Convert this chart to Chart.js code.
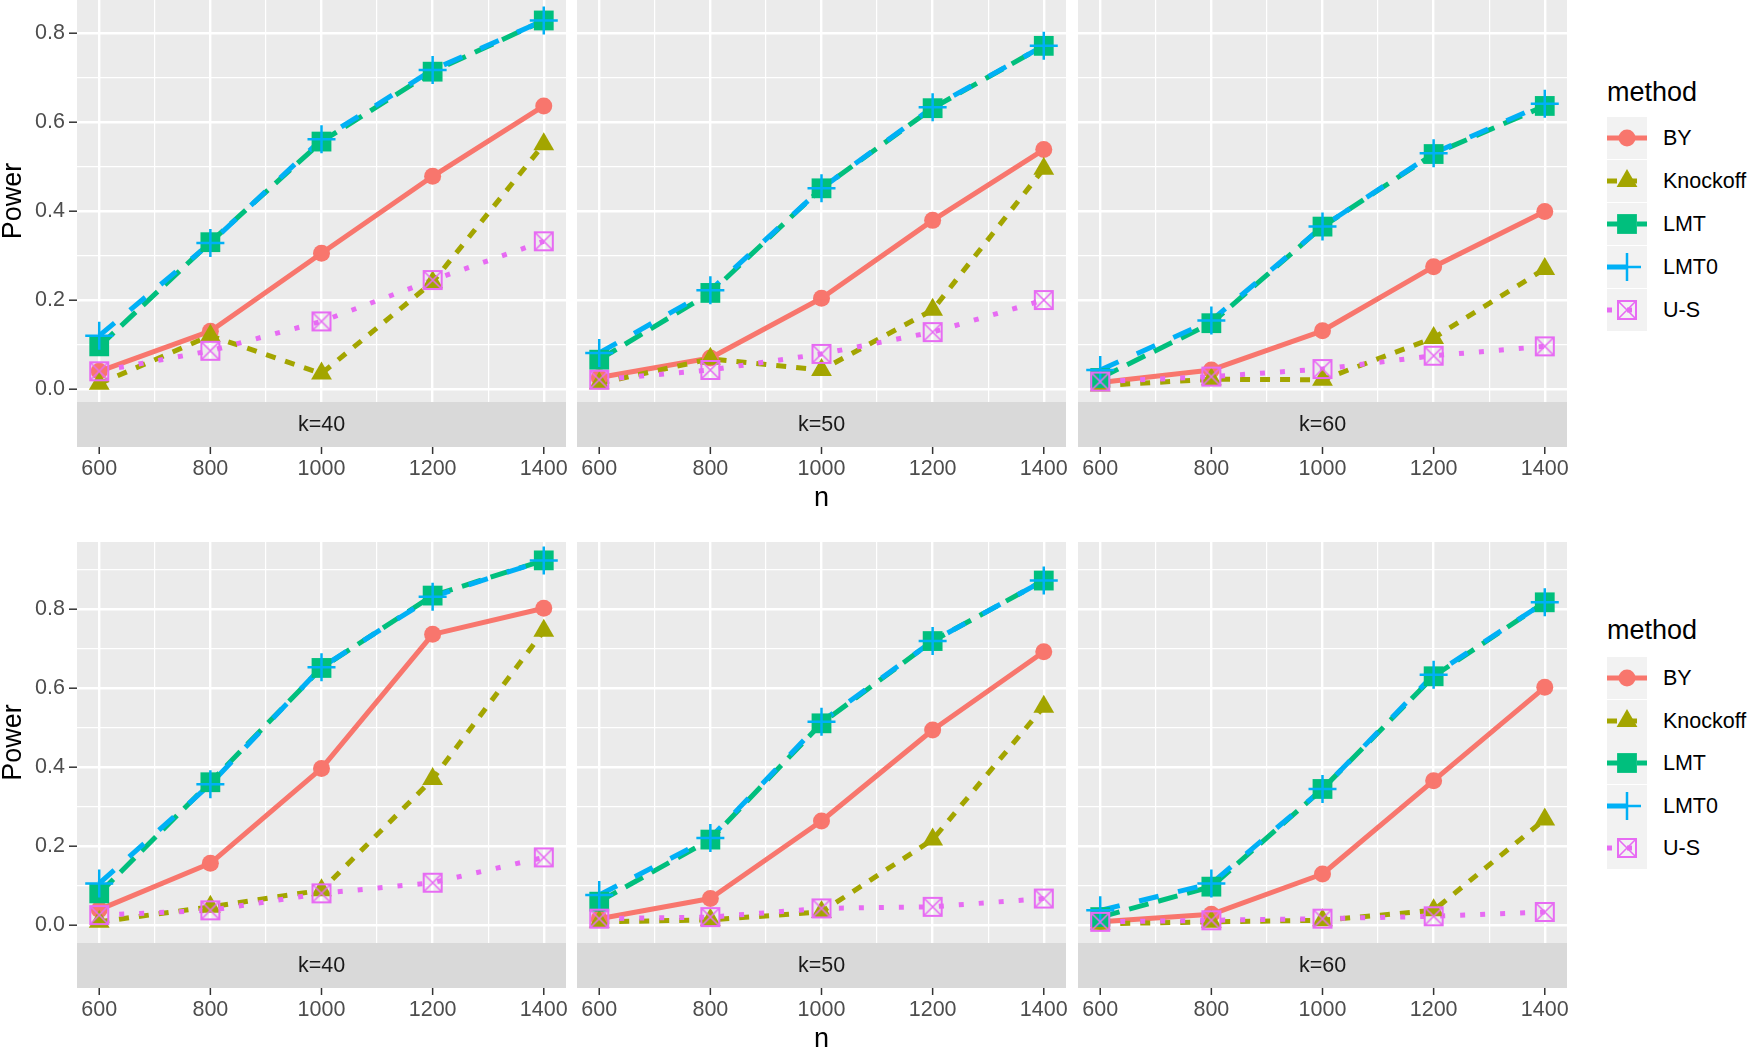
<!DOCTYPE html>
<html>
<head>
<meta charset="utf-8">
<script src="https://cdn.jsdelivr.net/npm/chart.js"></script>
<style>
  html, body { margin: 0; padding: 0; background: #fff; overflow: hidden; }
  body { width: 1754px; height: 1048px; position: relative; font-family: "Liberation Sans", Arial, sans-serif; }
  canvas.panel { position: absolute; }
  .legend-title { position: absolute; left: 1607px; font-size: 27px; line-height: 30px; color: #000; }
  .key { position: absolute; left: 1607px; width: 40px; height: 42px; }
  .key-label { position: absolute; left: 1663px; font-size: 21.5px; line-height: 26px; color: #000; white-space: nowrap; }
</style>
</head>
<body>
<script>
// x values and facet labels
const nValues = [600, 800, 1000, 1200, 1400];
const kLabels = ['k=40', 'k=50', 'k=60'];
const methods = ['BY', 'Knockoff', 'LMT', 'LMT0', 'U-S'];

// top plot, one row per facet (k=40, k=50, k=60)
const topBY       = [[0.040, 0.130, 0.305, 0.478, 0.636], [0.026, 0.070, 0.204, 0.379, 0.538], [0.015, 0.043, 0.131, 0.275, 0.399]];
const topKnockoff = [[0.012, 0.120, 0.035, 0.240, 0.550], [0.013, 0.068, 0.043, 0.178, 0.495], [0.008, 0.022, 0.021, 0.115, 0.270]];
const topLMT      = [[0.096, 0.330, 0.556, 0.713, 0.828], [0.066, 0.216, 0.451, 0.631, 0.771], [0.025, 0.148, 0.365, 0.528, 0.636]];
const topLMT0     = [[0.120, 0.328, 0.561, 0.717, 0.828], [0.081, 0.222, 0.451, 0.633, 0.771], [0.043, 0.154, 0.365, 0.530, 0.641]];
const topUS       = [[0.040, 0.086, 0.152, 0.245, 0.332], [0.021, 0.043, 0.079, 0.128, 0.200], [0.017, 0.028, 0.045, 0.075, 0.096]];

// bottom plot
const botBY       = [[0.040, 0.157, 0.397, 0.736, 0.802], [0.017, 0.068, 0.264, 0.494, 0.692], [0.009, 0.028, 0.130, 0.366, 0.602]];
const botKnockoff = [[0.009, 0.047, 0.089, 0.370, 0.745], [0.009, 0.014, 0.034, 0.217, 0.553], [0.004, 0.009, 0.013, 0.038, 0.268]];
const botLMT      = [[0.081, 0.362, 0.651, 0.834, 0.923], [0.060, 0.217, 0.511, 0.719, 0.872], [0.021, 0.098, 0.345, 0.630, 0.817]];
const botLMT0     = [[0.106, 0.357, 0.653, 0.831, 0.923], [0.077, 0.221, 0.515, 0.719, 0.872], [0.038, 0.106, 0.345, 0.634, 0.817]];
const botUS       = [[0.026, 0.038, 0.081, 0.108, 0.172], [0.017, 0.021, 0.043, 0.047, 0.068], [0.009, 0.013, 0.017, 0.023, 0.034]];

// ggplot hue palette + linetypes
const colors = ['#F8766D', '#A3A500', '#00BF7D', '#00B0F6', '#E76BF3'];
const dashes = [[], [10, 10], [20, 10], [20, 20], [5, 15]];

// boxtimes marker for U-S
function makeBoxTimes(color) {
  const c = document.createElement('canvas');
  c.width = 22; c.height = 22;
  const g = c.getContext('2d');
  g.strokeStyle = color;
  g.lineWidth = 2;
  g.strokeRect(2, 2, 18, 18);
  g.lineWidth = 1.6;
  g.beginPath();
  g.moveTo(3, 3); g.lineTo(19, 19);
  g.moveTo(19, 3); g.lineTo(3, 19);
  g.stroke();
  return c;
}
const shapes = ['circle', 'triangle', 'rect', 'cross', makeBoxTimes(colors[4])];
const radii = [8.5, 12, 14, 14, 10];

const FONT = '"Liberation Sans", Arial, sans-serif';
Chart.defaults.font.family = FONT;

const PANEL_W = 489;
const panelLefts = [77, 577, 1078];
const PAD = 24;
const X_AXIS_H = 113.5;
const STRIP_H = 45;

const rows = [
  { top: 0, h: 402, yMin: -0.029, yMax: 0.874, series: [topBY, topKnockoff, topLMT, topLMT0, topUS], titleY: 92, keyY: 137.5, keyStep: 43 },
  { top: 542, h: 401, yMin: -0.0445, yMax: 0.9695, series: [botBY, botKnockoff, botLMT, botLMT0, botUS], titleY: 630, keyY: 678, keyStep: 42.5 }
];

function isMajorY(v) { return Math.abs(Math.round(v * 10)) % 2 === 0; }
function isMajorX(v) { return Math.round(v) % 200 === 0; }

// grey panel, facet strip below, and x tick marks below strip
const panelDecor = {
  id: 'panelDecor',
  beforeDraw(chart, args, opts) {
    const ctx = chart.ctx;
    const a = chart.chartArea;
    ctx.save();
    ctx.fillStyle = '#EBEBEB';
    ctx.fillRect(a.left, a.top, a.right - a.left, a.bottom - a.top);
    ctx.fillStyle = '#D9D9D9';
    ctx.fillRect(a.left, a.bottom, a.right - a.left, STRIP_H);
    ctx.fillStyle = '#1A1A1A';
    ctx.font = '21.5px ' + FONT;
    ctx.textAlign = 'center';
    ctx.textBaseline = 'middle';
    ctx.fillText(opts.label, (a.left + a.right) / 2, a.bottom + STRIP_H / 2 + 1);
    const xs = chart.scales.x;
    ctx.strokeStyle = '#333333';
    ctx.lineWidth = 1.5;
    xs.ticks.filter(t => isMajorX(t.value)).forEach(t => {
      const px = xs.getPixelForValue(t.value);
      ctx.beginPath();
      ctx.moveTo(px, a.bottom + STRIP_H);
      ctx.lineTo(px, a.bottom + STRIP_H + 7);
      ctx.stroke();
    });
    ctx.restore();
  }
};

rows.forEach(row => {
  kLabels.forEach((k, p) => {
    const showY = p === 0;
    const yAxisW = showY ? 77 : 0;
    const padL = showY ? 0 : PAD;
    const cw = padL + yAxisW + PANEL_W + PAD;
    const ch = Math.ceil(PAD + row.h + X_AXIS_H);
    const cv = document.createElement('canvas');
    cv.className = 'panel';
    cv.width = cw; cv.height = ch;
    cv.style.width = cw + 'px';
    cv.style.height = ch + 'px';
    cv.style.left = (panelLefts[p] - yAxisW - padL) + 'px';
    cv.style.top = (row.top - PAD) + 'px';
    document.body.appendChild(cv);

    const datasets = [];
    methods.forEach((m, i) => {
      const pts = nValues.map((n, j) => ({ x: n, y: row.series[i][p][j] }));
      datasets.push({
        label: m + '-line', data: pts, order: 20 - i,
        showLine: true, borderColor: colors[i], borderWidth: 5,
        borderDash: dashes[i], borderJoinStyle: 'round', pointRadius: 0, tension: 0
      });
      datasets.push({
        label: m, data: pts, order: 10 - i, showLine: false,
        pointStyle: shapes[i], pointRadius: radii[i],
        pointBackgroundColor: colors[i], pointBorderColor: colors[i],
        pointBorderWidth: i === 3 ? 2.5 : 0
      });
    });

    new Chart(cv.getContext('2d'), {
      type: 'line',
      data: { datasets: datasets },
      plugins: [panelDecor],
      options: {
        responsive: false,
        maintainAspectRatio: false,
        animation: false,
        events: [],
        layout: { padding: { top: PAD, left: padL, right: PAD, bottom: ch - (PAD + row.h + X_AXIS_H) } },
        plugins: {
          legend: { display: false },
          tooltip: { enabled: false },
          panelDecor: { label: k }
        },
        scales: {
          x: {
            type: 'linear',
            min: 560, max: 1440,
            afterFit(s) { s.height = X_AXIS_H; s.paddingLeft = 0; s.paddingRight = 0; },
            border: { display: false },
            grid: {
              color: '#FFFFFF',
              lineWidth: c => isMajorX(c.tick.value) ? 2.4 : 1.2,
              drawTicks: false
            },
            ticks: {
              stepSize: 100, includeBounds: false, autoSkip: false, maxRotation: 0,
              padding: 54, color: '#4D4D4D', font: { size: 21.5 },
              callback: v => isMajorX(v) ? String(v) : ''
            },
            title: {
              display: p === 1, text: 'n', color: '#000000',
              font: { size: 27 }, padding: { top: 0, bottom: 1 }
            }
          },
          y: {
            min: row.yMin, max: row.yMax,
            afterFit(s) { s.width = yAxisW; s.paddingTop = 0; s.paddingBottom = 0; },
            border: { display: false },
            grid: {
              color: '#FFFFFF',
              lineWidth: c => isMajorY(c.tick.value) ? 2.4 : 1.2,
              drawTicks: showY, tickLength: 8, tickWidth: 1.5,
              tickColor: c => isMajorY(c.tick.value) ? '#333333' : 'rgba(0,0,0,0)'
            },
            ticks: {
              display: showY, stepSize: 0.1, includeBounds: false, autoSkip: false,
              padding: 4, color: '#4D4D4D', font: { size: 21.5 },
              callback: v => isMajorY(v) ? v.toFixed(1) : ''
            },
            title: {
              display: showY, text: 'Power', color: '#000000',
              font: { size: 27, lineHeight: 1 }, padding: { top: 0, bottom: 0 }
            }
          }
        }
      }
    });
  });

  // legend
  const t = document.createElement('div');
  t.className = 'legend-title';
  t.textContent = 'method';
  t.style.top = (row.titleY - 15) + 'px';
  document.body.appendChild(t);
  methods.forEach((m, i) => {
    const cy = row.keyY + i * row.keyStep;
    const kc = document.createElement('canvas');
    kc.className = 'key';
    kc.width = 40; kc.height = 42;
    kc.style.top = (cy - 21) + 'px';
    document.body.appendChild(kc);
    const g = kc.getContext('2d');
    g.fillStyle = '#F2F2F2';
    g.fillRect(0, 0, 40, 42);
    g.strokeStyle = colors[i];
    g.lineWidth = 5;
    g.setLineDash(dashes[i]);
    g.beginPath(); g.moveTo(0, 21); g.lineTo(40, 21); g.stroke();
    g.setLineDash([]);
    g.fillStyle = colors[i];
    g.lineWidth = 2.5;
    Chart.helpers.drawPoint(g, { pointStyle: shapes[i], radius: radii[i], rotation: 0, borderWidth: i === 3 ? 2.5 : 0 }, 20, 21);
    const lb = document.createElement('div');
    lb.className = 'key-label';
    lb.textContent = m;
    lb.style.top = (cy - 13) + 'px';
    document.body.appendChild(lb);
  });
});
</script>
</body>
</html>
